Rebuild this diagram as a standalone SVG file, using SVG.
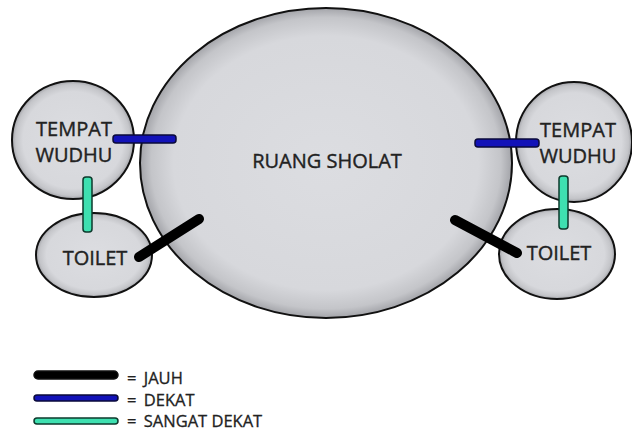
<svg xmlns="http://www.w3.org/2000/svg" width="632" height="435" viewBox="0 0 632 435">
<defs>
<radialGradient id="g" cx="0.5" cy="0.5" r="0.5">
<stop offset="0" stop-color="#dcdde1"/>
<stop offset="0.82" stop-color="#d7d8dc"/>
<stop offset="0.94" stop-color="#c4c5c9"/>
<stop offset="1" stop-color="#a3a4a9"/>
</radialGradient>
<style>
.n{fill:url(#g);stroke:#111;stroke-width:2}
.t{font-family:"Open Sans","DejaVu Sans",sans-serif;fill:#222;stroke:#222;stroke-width:0.4;text-anchor:middle}
.big{font-size:20px}
.lg{font-family:"Open Sans","DejaVu Sans",sans-serif;fill:#222;stroke:#222;stroke-width:0.3;font-size:16.5px}
.far{stroke:#000;stroke-width:10;stroke-linecap:round}
.near{fill:#1212b8;stroke:#0a0a3a;stroke-width:1.5}
.vnear{fill:#3ee0b0;stroke:#0d3a2c;stroke-width:1.5}
</style>
</defs>
<rect width="632" height="435" fill="#fff"/>
<g id="ruang-sholat">
<ellipse class="n" cx="326" cy="163" rx="186" ry="155"/>
<text class="t big" x="327" y="168">RUANG SHOLAT</text>
</g>
<g id="wudhu-kiri">
<ellipse class="n" cx="73" cy="140" rx="61" ry="59"/>
<text class="t big" x="74" y="136">TEMPAT</text>
<text class="t big" x="74" y="162">WUDHU</text>
</g>
<g id="toilet-kiri">
<ellipse class="n" cx="94" cy="255" rx="58" ry="42"/>
<text class="t big" x="95" y="265">TOILET</text>
</g>
<g id="wudhu-kanan">
<ellipse class="n" cx="574" cy="142" rx="58" ry="60"/>
<text class="t big" x="578" y="137">TEMPAT</text>
<text class="t big" x="578" y="163">WUDHU</text>
</g>
<g id="toilet-kanan">
<ellipse class="n" cx="557" cy="254" rx="58" ry="45"/>
<text class="t big" x="559" y="260">TOILET</text>
</g>
<g id="connectors">
<rect class="near" x="113" y="135" width="63" height="8" rx="3"/>
<rect class="vnear" x="83" y="177" width="9" height="55" rx="3"/>
<line class="far" x1="139" y1="257" x2="199" y2="219"/>
<rect class="near" x="475" y="139" width="64" height="8" rx="3"/>
<rect class="vnear" x="559" y="176" width="9" height="53" rx="3"/>
<line class="far" x1="455" y1="220" x2="517" y2="253"/>
</g>
<g id="legend">
<rect x="34" y="371" width="84" height="8" rx="4" fill="#000" stroke="#111" stroke-width="1.5"/>
<rect class="near" x="34" y="395" width="84" height="6" rx="3"/>
<rect class="vnear" x="34" y="418" width="84" height="6" rx="3"/>
<text class="lg" x="127" y="384">= <tspan dx="3">JAUH</tspan></text>
<text class="lg" x="127" y="406">= <tspan dx="3">DEKAT</tspan></text>
<text class="lg" x="127" y="427">= <tspan dx="3">SANGAT DEKAT</tspan></text>
</g>
</svg>
